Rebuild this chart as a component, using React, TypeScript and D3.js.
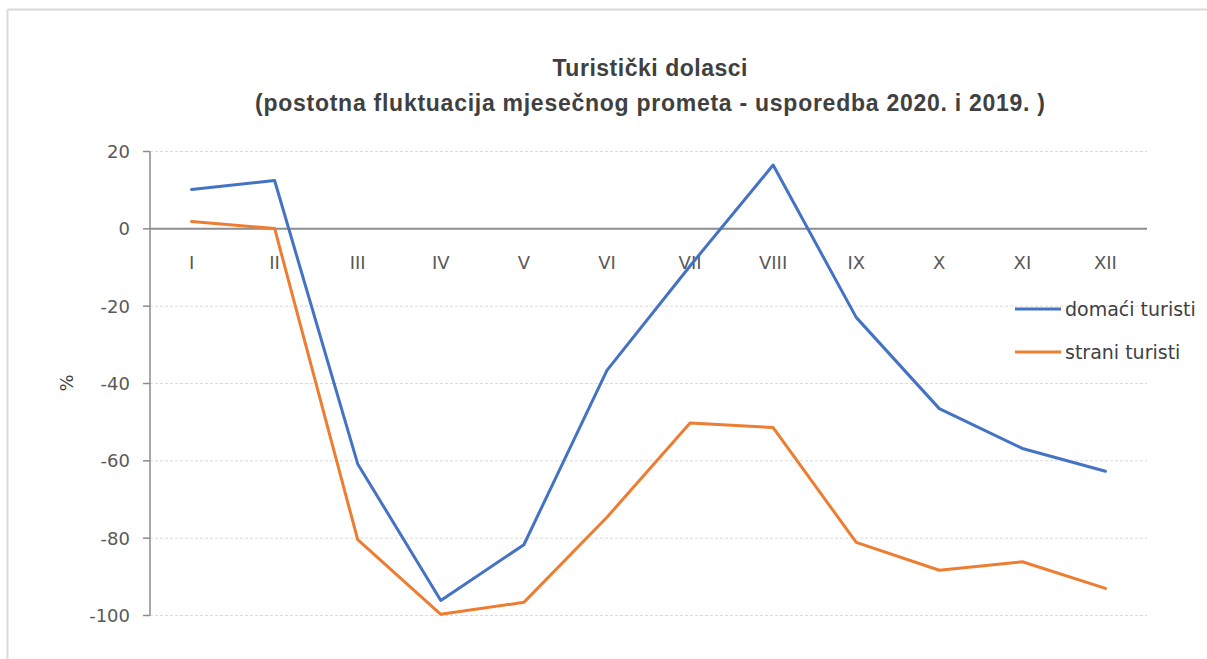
import React, { useMemo } from 'react';
import * as d3 from 'd3';

// months as roman numerals
const months = ['I', 'II', 'III', 'IV', 'V', 'VI', 'VII', 'VIII', 'IX', 'X', 'XI', 'XII'];

// % change 2020 vs 2019
const domaci = [10.2, 12.5, -60.8, -96.1, -81.7, -36.6, -9.6, 16.5, -22.9, -46.5, -56.8, -62.7];
const strani = [1.9, 0.1, -80.4, -99.7, -96.6, -74.6, -50.2, -51.4, -81.1, -88.3, -86.1, -93.0];

const yTicks = [20, 0, -20, -40, -60, -80, -100];

const seriesNames = ['domaći turisti', 'strani turisti'];
const seriesColors = ['#4472C4', '#ED7D31'];

const W = 1207;
const H = 659;
const FONT = '"DejaVu Sans", sans-serif';
const TITLE_FONT = '"Liberation Sans", Arial, sans-serif';

const App = () => {
  const margin = { top: 151.5, left: 150, right: 60, bottom: 43.5 };

  const x = useMemo(
    () => d3.scaleBand().domain(months).range([margin.left, W - margin.right]),
    []
  );
  const y = useMemo(
    () => d3.scaleLinear().domain([-100, 20]).range([H - margin.bottom, margin.top]),
    []
  );

  const line = d3
    .line<number>()
    .x((_, i) => (x(months[i]) ?? 0) + x.bandwidth() / 2)
    .y(d => y(d));

  const series = [domaci, strani];

  return (
    <svg
      width={W}
      height={H}
      style={{ position: 'absolute', left: 0, top: 0, background: '#fff' }}
    >
      {/* outer frame */}
      <line x1={7.5} x2={W} y1={9.5} y2={9.5} stroke="#d9d9d9" strokeWidth={2} />
      <line x1={7.5} x2={7.5} y1={9.5} y2={H} stroke="#d9d9d9" strokeWidth={2} />

      {/* title */}
      <text
        x={650}
        y={76}
        textAnchor="middle"
        fontFamily={TITLE_FONT}
        fontWeight="bold"
        fontSize={23}
        fill="#404040"
        textLength={195}
        lengthAdjust="spacing"
      >
        Turistički dolasci
      </text>
      <text
        x={650}
        y={111}
        textAnchor="middle"
        fontFamily={TITLE_FONT}
        fontWeight="bold"
        fontSize={23}
        fill="#404040"
        textLength={790}
        lengthAdjust="spacing"
      >
        (postotna fluktuacija mjesečnog prometa - usporedba 2020. i 2019. )
      </text>

      {/* gridlines */}
      {yTicks.filter(t => t !== 0).map(t => (
        <line
          key={t}
          x1={margin.left}
          x2={W - margin.right}
          y1={y(t)}
          y2={y(t)}
          stroke="#d9d9d9"
          strokeWidth={1}
          strokeDasharray="3,2"
        />
      ))}

      {/* y axis */}
      <line
        x1={margin.left}
        x2={margin.left}
        y1={y(20)}
        y2={y(-100)}
        stroke="#8c8c8c"
        strokeWidth={1.5}
      />
      {yTicks.map(t => (
        <g key={t}>
          <line x1={margin.left - 7} x2={margin.left} y1={y(t)} y2={y(t)} stroke="#8c8c8c" strokeWidth={1.5} />
          <text
            x={margin.left - 20}
            y={y(t)}
            dy="0.36em"
            textAnchor="end"
            fontFamily={FONT}
            fontSize={18}
            fill="#595959"
          >
            {t}
          </text>
        </g>
      ))}

      {/* zero line */}
      <line
        x1={margin.left}
        x2={W - margin.right}
        y1={y(0)}
        y2={y(0)}
        stroke="#8c8c8c"
        strokeWidth={2}
      />

      {/* month labels */}
      {months.map(m => (
        <text
          key={m}
          x={(x(m) ?? 0) + x.bandwidth() / 2}
          y={y(0) + 34}
          dy="0.36em"
          textAnchor="middle"
          fontFamily={FONT}
          fontSize={18}
          fill="#595959"
        >
          {m}
        </text>
      ))}

      {/* y title */}
      <text
        transform={`translate(${73},${383}) rotate(-90)`}
        textAnchor="middle"
        fontFamily={FONT}
        fontSize={18}
        fill="#404040"
      >
        %
      </text>

      {/* series */}
      {series.map((s, i) => (
        <path
          key={seriesNames[i]}
          d={line(s) ?? ''}
          fill="none"
          stroke={seriesColors[i]}
          strokeWidth={3}
          strokeLinejoin="round"
          strokeLinecap="round"
        />
      ))}

      {/* legend */}
      {seriesNames.map((name, i) => (
        <g key={name} transform={`translate(1015,${309 + i * 43})`}>
          <line x1={0} x2={46} y1={0} y2={0} stroke={seriesColors[i]} strokeWidth={3} />
          <text x={50} y={0} dy="0.36em" fontFamily={FONT} fontSize={19} fill="#404040">
            {name}
          </text>
        </g>
      ))}
    </svg>
  );
};

export default App;
